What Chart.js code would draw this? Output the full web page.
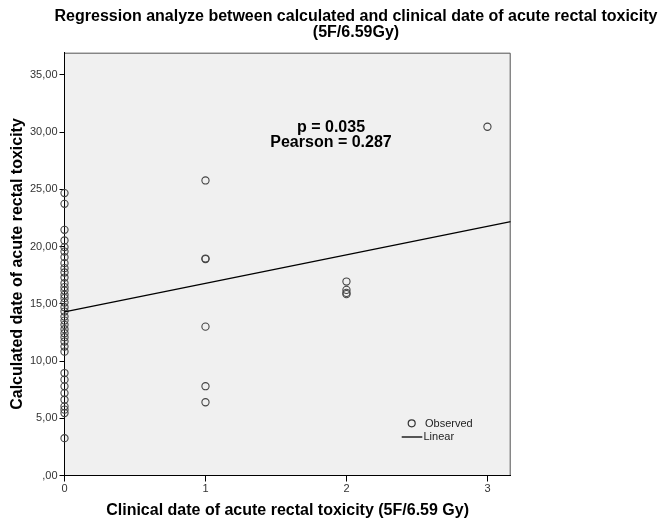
<!DOCTYPE html>
<html><head><meta charset="utf-8">
<script src="https://cdn.jsdelivr.net/npm/chart.js@4/dist/chart.umd.min.js"></script>
<style>html,body{margin:0;padding:0;background:#fff;}#wrap{width:668px;height:525px;}</style>
</head><body><div id="wrap"><canvas id="c" width="668" height="525"></canvas></div>
<script>
const titleLines = ["Regression analyze between calculated and clinical date of acute rectal toxicity", "(5F/6.59Gy)"];
const xAxisTitle = "Clinical date of acute rectal toxicity (5F/6.59 Gy)";
const yAxisTitle = "Calculated date of acute rectal toxicity";
const statLines = ["p = 0.035", "Pearson = 0.287"];
const legendLabels = ["Observed", "Linear"];

const xTicks = [0, 1, 2, 3];
const xTickLabels = ["0", "1", "2", "3"];
const yTicks = [0, 5, 10, 15, 20, 25, 30, 35];
const yTickLabels = [",00", "5,00", "10,00", "15,00", "20,00", "25,00", "30,00", "35,00"];

// Observed points: clinical grade (x) vs calculated date (y)
const obsX0 = [0,0,0,0,0,0,0,0,0,0,0,0,0,0,0,0,0,0,0,0,0,0,0,0,0,0,0,0,0,0,0,0,0,0,0,0,0];
const obsY0 = [24.67,23.73,21.46,20.53,19.95,19.56,19.07,18.55,18.11,17.73,17.29,16.80,16.45,16.15,15.78,15.49,15.10,14.70,14.32,13.88,13.53,13.16,12.78,12.43,12.08,11.70,11.26,10.82,8.95,8.37,7.79,7.20,6.62,6.04,5.75,5.45,3.26];
const obsX1 = [1,1,1,1,1,1];
const obsY1 = [25.77,18.95,18.90,13.00,7.80,6.40];
const obsX2 = [2,2,2,2];
const obsY2 = [16.94,16.21,15.95,15.84];
const obsX3 = [3];
const obsY3 = [30.46];

// Linear fit line endpoints
const fitX = [0, 3.165];
const fitY = [14.29, 22.17];

const xMin = 0, xMax = 3.165, yMin = 0, yMax = 36.93;

const obsX = [].concat(obsX0, obsX1, obsX2, obsX3);
const obsY = [].concat(obsY0, obsY1, obsY2, obsY3);
const obsData = obsX.map((x, i) => ({x: x, y: obsY[i]}));
const fitData = fitX.map((x, i) => ({x: x, y: fitY[i]}));

const FONT = "'Liberation Sans', Arial, sans-serif";

const decor = {
  id: 'decor',
  beforeDraw(chart) {
    const {ctx, chartArea: a} = chart;
    ctx.save();
    ctx.fillStyle = '#f0f0f0';
    ctx.fillRect(a.left, a.top, a.right - a.left, a.bottom - a.top);
    ctx.strokeStyle = '#555';
    ctx.lineWidth = 1;
    ctx.beginPath();
    ctx.moveTo(a.left, a.top + 0.5);
    ctx.lineTo(a.right - 0.5, a.top + 0.5);
    ctx.lineTo(a.right - 0.5, a.bottom);
    ctx.stroke();
    ctx.restore();
  },
  afterDraw(chart) {
    const {ctx, chartArea: a} = chart;
    ctx.save();
    ctx.fillStyle = '#000';
    ctx.textAlign = 'center';
    ctx.textBaseline = 'middle';
    // title
    ctx.font = "bold 16px " + FONT;
    ctx.fillText(titleLines[0], 356, 17);
    ctx.fillText(titleLines[1], 356, 33);
    // x axis title
    ctx.font = "bold 16px " + FONT;
    ctx.fillText(xAxisTitle, (a.left + a.right) / 2, 511);
    // y axis title
    ctx.save();
    ctx.translate(18, 264);
    ctx.rotate(-Math.PI / 2);
    ctx.font = "bold 16px " + FONT;
    ctx.fillText(yAxisTitle, 0, 0);
    ctx.restore();
    // stats
    ctx.font = "bold 16px " + FONT;
    ctx.fillText(statLines[0], 331, 128);
    ctx.fillText(statLines[1], 331, 143);
    // legend
    ctx.strokeStyle = '#333';
    ctx.lineWidth = 1.2;
    ctx.beginPath();
    ctx.arc(411.7, 423.3, 3.5, 0, Math.PI * 2);
    ctx.stroke();
    ctx.strokeStyle = '#000';
    ctx.lineWidth = 1.3;
    ctx.beginPath();
    ctx.moveTo(401.7, 437);
    ctx.lineTo(422.3, 437);
    ctx.stroke();
    ctx.font = "11px " + FONT;
    ctx.textAlign = 'left';
    ctx.fillStyle = '#222';
    ctx.fillText(legendLabels[0], 425, 423.5);
    ctx.fillText(legendLabels[1], 423.5, 437);
    ctx.restore();
  }
};

new Chart(document.getElementById('c'), {
  type: 'scatter',
  data: {
    datasets: [
      {
        label: legendLabels[1],
        data: fitData,
        showLine: true,
        borderColor: '#000',
        borderWidth: 1.3,
        pointRadius: 0,
        fill: false
      },
      {
        label: legendLabels[0],
        data: obsData,
        pointStyle: 'circle',
        pointRadius: 3.6,
        pointBorderWidth: 1.1,
        pointBackgroundColor: 'rgba(0,0,0,0)',
        pointBorderColor: '#444',
        borderColor: '#444',
        backgroundColor: 'rgba(0,0,0,0)',
        clip: false
      }
    ]
  },
  options: {
    responsive: false,
    animation: false,
    devicePixelRatio: 1,
    layout: {padding: {left: 0, top: 52.7, right: 157.3, bottom: 0}},
    plugins: {legend: {display: false}, tooltip: {enabled: false}, title: {display: false}},
    scales: {
      x: {
        type: 'linear',
        min: xMin, max: xMax,
        afterBuildTicks: s => { s.ticks = xTicks.map(v => ({value: v})); },
        afterFit: s => { s.height = 49.5; },
        grid: {drawOnChartArea: false, drawTicks: true, tickLength: 6, color: '#000'},
        border: {display: true, color: '#000', width: 1},
        ticks: {
          color: '#333', padding: 1,
          font: {family: FONT, size: 11},
          callback: (v) => xTickLabels[xTicks.indexOf(v)],
          maxRotation: 0
        }
      },
      y: {
        type: 'linear',
        min: yMin, max: yMax,
        afterBuildTicks: s => { s.ticks = yTicks.map(v => ({value: v})); },
        afterFit: s => { s.width = 64.5; },
        grid: {drawOnChartArea: false, drawTicks: true, tickLength: 5, color: '#000'},
        border: {display: true, color: '#000', width: 1},
        ticks: {
          color: '#333', padding: 2,
          font: {family: FONT, size: 11},
          callback: (v) => yTickLabels[yTicks.indexOf(v)]
        }
      }
    }
  },
  plugins: [decor]
});
</script>
</body></html>
